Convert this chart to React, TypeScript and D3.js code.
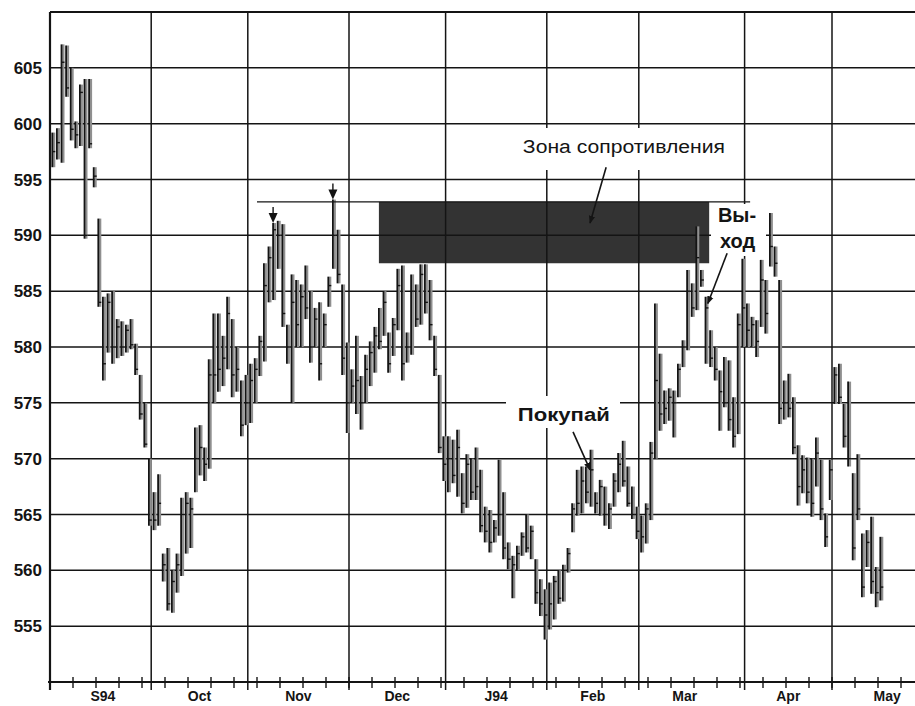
import React from 'react';
import * as d3 from 'd3';

// ---- data ----
const highs = [
  599.2, 599.6, 607.1, 607.0, 605.0, 600.2, 603.5, 604.0, 604.0, 596.1,
  591.5, 584.5, 584.8, 585.0, 582.5, 582.3, 582.0, 582.5, 580.3, 577.5,
  575.0, 570.0, 567.0, 568.6, 561.5, 562.0, 560.0, 561.5, 566.5, 567.0,
  566.5, 572.8, 573.0, 571.0, 578.9, 583.0, 583.0, 581.0, 584.5, 582.5,
  580.0, 577.0, 577.5, 578.5, 579.0, 581.0, 587.5, 589.0, 591.1, 591.3,
  591.0, 582.0, 586.5, 586.0, 585.6, 587.3, 585.0, 583.5, 584.0, 583.0,
  586.3, 593.2, 590.5, 585.6, 580.4, 578.0, 581.0, 577.4, 579.3, 580.5,
  581.8, 583.5, 585.0, 581.3, 582.6, 587.0, 587.3, 581.3, 586.5, 585.6,
  587.4, 587.4, 586.0, 581.0, 577.5, 572.0, 572.0, 571.7, 572.6, 568.7,
  570.4, 570.0, 571.0, 569.0, 565.7, 565.4, 564.5, 569.9, 567.0, 562.5,
  561.3, 562.2, 563.4, 565.0, 564.0, 561.0, 559.2, 558.3, 558.9, 559.5,
  560.0, 560.5, 562.0, 566.0, 569.0, 569.3, 569.3, 570.8, 567.0, 568.1,
  567.5, 566.0, 568.7, 570.5, 571.6, 569.3, 567.5, 565.7, 564.9, 566.0,
  571.5, 583.9, 579.4, 576.1, 576.3, 576.1, 578.5, 580.6, 586.9, 585.7,
  590.8, 586.9, 584.5, 581.5, 580.0, 577.9, 579.1, 578.8, 575.5, 583.0,
  587.9, 583.9, 582.7, 582.4, 587.8, 586.0, 592.0, 589.0, 586.0, 577.0,
  577.6, 575.5, 571.2, 570.3, 570.1, 570.0, 571.9, 569.9, 565.1, 569.9,
  578.2, 578.5, 574.9, 576.9, 568.7, 570.4, 563.3, 563.6, 564.8, 560.3,
  563.0,
];
const lows = [
  596.1, 596.8, 596.5, 602.4, 598.5, 597.8, 598.0, 589.7, 597.8, 594.3,
  583.6, 577.0, 579.5, 578.5, 579.0, 579.2, 579.5, 579.8, 577.5, 573.5,
  571.0, 564.0, 563.6, 564.0, 559.0, 556.4, 556.2, 558.0, 559.5, 561.5,
  562.0, 567.0, 568.5, 568.0, 569.1, 575.0, 576.0, 576.5, 578.0, 575.5,
  576.0, 572.0, 573.0, 573.2, 575.0, 577.4, 578.7, 584.0, 584.2, 587.0,
  581.8, 578.5, 575.0, 580.0, 580.0, 582.5, 578.6, 580.0, 577.0, 580.0,
  583.6, 587.0, 585.7, 577.5, 572.3, 575.0, 574.0, 572.6, 575.0, 576.5,
  577.7, 579.8, 581.0, 577.7, 579.2, 581.5, 577.0, 578.6, 579.3, 581.8,
  582.0, 583.0, 580.6, 577.4, 570.5, 568.0, 567.0, 567.8, 566.6, 565.1,
  565.6, 566.3, 566.3, 563.4, 562.5, 561.6, 562.5, 563.1, 561.0, 560.1,
  557.5, 560.0, 561.3, 561.6, 561.0, 557.0, 555.9, 553.8, 554.7, 555.6,
  557.0, 557.2, 559.8, 563.4, 564.9, 565.1, 566.0, 565.7, 565.1, 564.9,
  564.0, 563.7, 565.7, 567.0, 567.5, 565.7, 564.6, 562.8, 561.6, 562.4,
  564.5, 570.0, 572.5, 573.1, 573.4, 571.9, 575.5, 578.2, 579.7, 582.7,
  583.3, 585.4, 578.5, 578.2, 577.0, 572.5, 574.6, 572.5, 571.0, 572.2,
  580.0, 580.0, 580.0, 579.1, 581.8, 581.2, 587.2, 586.3, 573.1, 573.5,
  573.7, 570.4, 565.8, 566.9, 566.0, 564.8, 567.5, 564.5, 562.1, 566.3,
  574.9, 574.9, 571.0, 569.3, 560.9, 564.5, 557.6, 560.3, 557.9, 556.7,
  557.3,
];
const closes = [
  597.5, 598.3, 605.5, 603.2, 599.5, 599.0, 602.8, 590.0, 598.2, 595.3,
  584.0, 578.5, 584.0, 580.0, 581.8, 580.0, 581.5, 580.2, 578.0, 574.0,
  571.3, 564.5, 564.5, 566.0, 560.5, 557.0, 559.0, 560.5, 565.0, 566.0,
  565.5, 570.0, 571.0, 569.5, 577.5, 577.5, 578.0, 579.0, 583.0, 577.5,
  578.0, 573.0, 575.0, 577.0, 578.0, 580.5, 585.5, 588.0, 590.5, 590.0,
  583.0, 580.0, 584.0, 582.0, 584.5, 583.5, 580.0, 582.5, 578.5, 582.0,
  585.5, 590.0, 586.5, 579.0, 575.0, 576.5, 577.0, 575.0, 578.0, 579.5,
  581.0, 580.5, 584.0, 578.5, 582.0, 585.5, 578.5, 580.0, 585.0, 582.5,
  586.5, 584.0, 582.0, 578.0, 571.0, 569.5, 570.0, 568.5, 571.0, 566.0,
  569.5, 567.0, 567.5, 564.0, 563.5, 562.5, 563.8, 565.0, 562.0, 561.0,
  560.5, 561.5, 563.0, 562.0, 563.5, 558.0, 557.0, 556.0, 557.0, 559.0,
  557.5, 560.0, 561.5, 565.5, 566.0, 568.0, 567.0, 569.0, 566.0, 567.5,
  565.0, 565.5, 568.0, 569.5, 568.0, 566.0, 565.0, 563.5, 563.0, 565.5,
  570.5, 577.0, 574.0, 574.5, 575.5, 575.0, 578.0, 580.0, 585.0, 583.5,
  588.0, 586.0, 583.5, 579.0, 578.0, 576.0, 575.0, 573.5, 572.0, 582.0,
  583.5, 581.5, 582.0, 580.5, 586.0, 583.0, 589.0, 587.5, 574.5, 575.0,
  574.5, 571.0, 567.5, 569.0, 567.0, 566.0, 570.5, 565.5, 563.0, 569.0,
  577.5, 575.5, 572.0, 570.0, 562.0, 565.5, 558.5, 562.5, 559.0, 558.0,
  558.5,
];

const yTicks = [555, 560, 565, 570, 575, 580, 585, 590, 595, 600, 605];
const monthStarts = [0, 22, 43, 65, 86, 108, 128, 151, 170];
const monthLabels = ['S94', 'Oct', 'Nov', 'Dec', 'J94', 'Feb', 'Mar', 'Apr', 'May'];
const monthLabelDays = [11.5, 32.5, 54, 75.5, 97, 118, 138, 160.5, 182];

// annotations (in day / price units)
const zone = { start: 71.5, end: 143.3, low: 587.5, high: 593.0 };
const resistance = { from: 45, to: 152.2, value: 593.0 };
const peakMarkers = [
  { day: 48, tip: 591.1 },
  { day: 61, tip: 593.2 },
];
const arrows = [
  { x1: 120.9, y1: 596.1, x2: 117.4, y2: 591.1 },
  { x1: 147.2, y1: 588.4, x2: 143.0, y2: 583.9 },
  { x1: 113.7, y1: 572.4, x2: 117.4, y2: 569.0 },
];

const W = 915;
const H = 706;

export default function App() {
  const x = d3.scaleLinear().domain([0, 188]).range([50, 914.8]);
  const y = d3.scaleLinear().domain([550, 610]).range([682, 12]);
  const bx = (i: number) => x(i + 0.5);
  const weekTicks = d3.range(5, 189, 5);
  const font = "'Liberation Sans', Arial, Helvetica, sans-serif";
  const ink = '#141414';

  return (
    <svg
      width={W}
      height={H}
      viewBox={`0 0 ${W} ${H}`}
      style={{ position: 'absolute', left: 0, top: 0, background: '#fff' }}
    >
      <defs>
        <marker id="ah" viewBox="0 0 10 10" refX="9" refY="5" markerWidth="5" markerHeight="5" orient="auto">
          <path d="M0,1L10,5L0,9z" fill={ink} />
        </marker>
      </defs>
      <rect x={0} y={0} width={W} height={H} fill="#fff" />

      {/* resistance zone */}
      <rect
        x={x(zone.start)}
        y={y(zone.high)}
        width={x(zone.end) - x(zone.start)}
        height={y(zone.low) - y(zone.high)}
        fill="#333333"
      />

      {/* horizontal grid */}
      {yTicks.map((v) => (
        <line key={'h' + v} x1={50} x2={W} y1={y(v)} y2={y(v)} stroke={ink} strokeWidth={1.5} />
      ))}
      <line x1={50} x2={W} y1={y(610)} y2={y(610)} stroke={ink} strokeWidth={1.8} />

      {/* month grid */}
      {monthStarts.slice(1).map((d) => (
        <line key={'v' + d} x1={x(d)} x2={x(d)} y1={y(610)} y2={690} stroke={ink} strokeWidth={1.5} />
      ))}

      {/* masks behind labels */}
      <rect x={515} y={128} width={220} height={42} fill="#fff" />
      <rect x={711} y={204} width={55} height={52} fill="#fff" />
      <rect x={506} y={396} width={114} height={32} fill="#fff" />

      {/* bars */}
      {highs.map((h, i) => (
        <g key={'b' + i}>
          <rect x={bx(i) + 0.6} y={y(h)} width={2.4} height={y(lows[i]) - y(h)} fill="#8f8f8f" />
          <line x1={bx(i)} x2={bx(i)} y1={y(h)} y2={y(lows[i])} stroke={ink} strokeWidth={1.8} />
          <line x1={bx(i)} x2={bx(i) + 3} y1={y(closes[i])} y2={y(closes[i])} stroke={ink} strokeWidth={1.4} />
        </g>
      ))}

      {/* resistance line */}
      <line
        x1={x(resistance.from)}
        x2={x(resistance.to)}
        y1={y(resistance.value)}
        y2={y(resistance.value)}
        stroke={ink}
        strokeWidth={1.3}
      />

      {/* peak markers */}
      {peakMarkers.map((m) => {
        const cx = bx(m.day);
        const ty = y(m.tip);
        return (
          <g key={'m' + m.day}>
            <line x1={cx} x2={cx} y1={ty - 16} y2={ty - 9} stroke={ink} strokeWidth={1.4} />
            <path d={`M${cx - 4.5},${ty - 10}L${cx + 4.5},${ty - 10}L${cx},${ty}Z`} fill={ink} />
          </g>
        );
      })}

      {/* annotation arrows */}
      {arrows.map((a, k) => (
        <line
          key={'a' + k}
          x1={x(a.x1)}
          y1={y(a.y1)}
          x2={x(a.x2)}
          y2={y(a.y2)}
          stroke={ink}
          strokeWidth={1.6}
          markerEnd="url(#ah)"
        />
      ))}

      {/* annotation texts */}
      <text x={x(102.8)} y={y(597.37)} fontFamily={font} fontSize={18} fill={ink} textLength={202} lengthAdjust="spacingAndGlyphs">
        Зона сопротивления
      </text>
      <text x={x(145.2)} y={y(591.2)} fontFamily={font} fontSize={20} fontWeight="bold" fill={ink}>
        Вы-
      </text>
      <text x={x(145.65)} y={y(588.87)} fontFamily={font} fontSize={20} fontWeight="bold" fill={ink}>
        ход
      </text>
      <text x={x(101.7)} y={y(573.37)} fontFamily={font} fontSize={18} fontWeight="bold" fill={ink} textLength={92} lengthAdjust="spacingAndGlyphs">
        Покупай
      </text>

      {/* axes */}
      <line x1={50} x2={50} y1={y(610)} y2={690} stroke={ink} strokeWidth={2.2} />
      <line x1={48} x2={W} y1={y(550)} y2={y(550)} stroke={ink} strokeWidth={2.2} />
      {weekTicks.map((d) => (
        <line key={'t' + d} x1={x(d)} x2={x(d)} y1={y(550) - 5} y2={y(550) + 6} stroke={ink} strokeWidth={1.4} />
      ))}
      {yTicks.map((v) => (
        <text
          key={'yl' + v}
          x={42}
          y={y(v) + 6}
          textAnchor="end"
          fontFamily={font}
          fontSize={17}
          fontWeight="bold"
          fill={ink}
        >
          {v}
        </text>
      ))}
      {monthLabels.map((m, k) => (
        <text
          key={'ml' + m}
          x={x(monthLabelDays[k])}
          y={701}
          textAnchor="middle"
          fontFamily={font}
          fontSize={14}
          fontWeight="bold"
          fill={ink}
        >
          {m}
        </text>
      ))}
    </svg>
  );
}
